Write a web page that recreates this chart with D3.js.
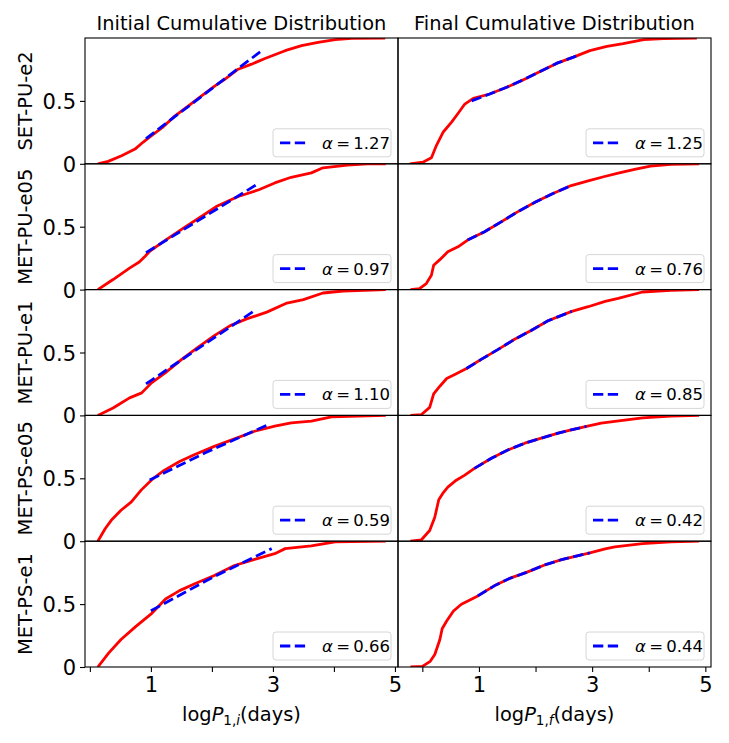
<!DOCTYPE html>
<html>
<head>
<meta charset="utf-8">
<script src="https://cdn.jsdelivr.net/npm/d3@7"></script>
<style>
    body { margin: 0; background: #fff; }
    text { font-family: 'DejaVu Sans', sans-serif; fill: #000; }
</style>
</head>
<body>
<div id="chart"></div>
<script>
var margin = {top: 38, left: 85};
var panel_width = 313;
var panel_height = 125.8;
var color_curve = '#ff0000';
var color_fit = '#0000ff';

var row_labels = ['SET-PU-e2', 'MET-PU-e05', 'MET-PU-e1', 'MET-PS-e05', 'MET-PS-e1'];
var col_titles = ['Initial Cumulative Distribution', 'Final Cumulative Distribution'];
var col_subscripts = ['i', 'f'];
var initial_alpha = ['1.27', '0.97', '1.10', '0.59', '0.66'];
var final_alpha = ['1.25', '0.76', '0.85', '0.42', '0.44'];

var x_ticks = [0, 1, 2, 3, 4, 5];
var x_tick_labels = ['', '1', '', '3', '', '5'];
var y_ticks = [0, 0.5];
var y_tick_labels = ['0', '0.5'];

// cumulative distributions, [logP, fraction]
var set_pu_e2_initial = [[0.13,0],[0.30,0.019],[0.52,0.064],[0.74,0.117],[0.87,0.171],[1.01,0.224],[1.18,0.285],[1.39,0.379],[1.61,0.459],[1.83,0.539],[2.05,0.619],[2.21,0.672],[2.43,0.752],[2.65,0.792],[2.87,0.837],[3.20,0.899],[3.47,0.939],[3.74,0.965],[4.02,0.987],[4.29,0.997],[4.84,1.0]];
var set_pu_e2_final = [[-0.22,0],[0.01,0.013],[0.16,0.048],[0.25,0.147],[0.37,0.253],[0.52,0.333],[0.63,0.40],[0.75,0.475],[0.90,0.52],[1.19,0.555],[1.49,0.608],[1.78,0.667],[2.08,0.733],[2.38,0.80],[2.67,0.848],[2.96,0.90],[3.26,0.933],[3.55,0.955],[3.91,0.987],[4.26,0.995],[4.85,1.0]];
var met_pu_e05_initial = [[0.13,0],[0.38,0.08],[0.65,0.171],[0.81,0.219],[0.91,0.267],[0.98,0.305],[1.24,0.393],[1.57,0.50],[1.84,0.585],[2.07,0.66],[2.43,0.74],[2.77,0.794],[3.03,0.848],[3.30,0.893],[3.63,0.928],[3.82,0.968],[4.22,0.989],[4.55,1.0],[4.85,1.0]];
var met_pu_e05_final = [[-0.21,0],[-0.05,0.008],[0.07,0.048],[0.16,0.114],[0.20,0.194],[0.30,0.234],[0.45,0.30],[0.63,0.34],[0.80,0.394],[1.10,0.46],[1.40,0.54],[1.69,0.62],[1.99,0.694],[2.28,0.758],[2.63,0.827],[2.93,0.864],[3.22,0.899],[3.46,0.926],[3.75,0.955],[4.03,0.981],[4.39,0.995],[4.89,1.0]];
var met_pu_e1_initial = [[0.13,0],[0.38,0.059],[0.65,0.139],[0.85,0.179],[0.93,0.219],[1.01,0.259],[1.24,0.34],[1.51,0.447],[1.77,0.54],[2.04,0.634],[2.30,0.714],[2.57,0.767],[2.90,0.821],[3.23,0.893],[3.50,0.92],[3.82,0.973],[4.15,0.989],[4.85,1.0]];
var met_pu_e1_final = [[-0.21,0],[-0.02,0.005],[0.13,0.064],[0.20,0.171],[0.31,0.232],[0.43,0.293],[0.60,0.331],[0.78,0.373],[1.04,0.445],[1.34,0.525],[1.63,0.605],[1.93,0.677],[2.22,0.752],[2.64,0.827],[2.93,0.864],[3.23,0.907],[3.46,0.931],[3.89,0.981],[4.39,0.995],[4.89,1.0]];
var met_ps_e05_initial = [[0.13,0],[0.25,0.099],[0.35,0.166],[0.51,0.246],[0.68,0.313],[0.84,0.406],[1.01,0.487],[1.21,0.561],[1.47,0.634],[1.71,0.687],[2.04,0.754],[2.37,0.813],[2.70,0.874],[3.03,0.914],[3.30,0.941],[3.63,0.955],[3.96,0.989],[4.85,1.0]];
var met_ps_e05_final = [[-0.21,0],[-0.02,0.01],[0.13,0.085],[0.22,0.19],[0.29,0.33],[0.36,0.38],[0.45,0.43],[0.60,0.485],[0.75,0.525],[0.92,0.579],[1.22,0.659],[1.51,0.725],[1.81,0.779],[2.10,0.819],[2.40,0.859],[2.63,0.885],[2.90,0.912],[3.16,0.939],[3.40,0.952],[3.89,0.981],[4.39,0.995],[4.89,1.0]];
var met_ps_e1_initial = [[0.13,0],[0.31,0.112],[0.51,0.219],[0.75,0.321],[1.0,0.42],[1.24,0.54],[1.47,0.607],[1.71,0.66],[2.04,0.727],[2.37,0.807],[2.70,0.856],[3.03,0.901],[3.20,0.941],[3.63,0.963],[4.02,0.995],[4.85,1.0]];
var met_ps_e1_final = [[-0.21,0],[0.0,0.005],[0.14,0.045],[0.22,0.099],[0.31,0.219],[0.35,0.304],[0.43,0.365],[0.55,0.445],[0.69,0.499],[0.84,0.533],[0.98,0.565],[1.27,0.645],[1.54,0.704],[1.84,0.752],[2.16,0.811],[2.46,0.853],[2.70,0.88],[2.96,0.907],[3.23,0.939],[3.40,0.955],[3.89,0.981],[4.39,0.995],[4.89,1.0]];

// power-law fits, [logP, fraction]
var set_pu_e2_initial_fit = [[0.92,0.20],[2.79,0.89]];
var met_pu_e05_initial_fit = [[0.92,0.294],[2.73,0.834]];
var met_pu_e1_initial_fit = [[0.92,0.251],[2.70,0.834]];
var met_ps_e05_initial_fit = [[0.98,0.487],[1.90,0.705],[2.93,0.928]];
var met_ps_e1_initial_fit = [[1.0,0.447],[2.04,0.72],[2.98,0.941]];
var set_pu_e2_final_fit = [[0.87,0.50],[1.19,0.555],[1.49,0.608],[1.78,0.667],[2.08,0.733],[2.38,0.80],[2.67,0.848],[2.79,0.87]];
var met_pu_e05_final_fit = [[0.80,0.394],[1.10,0.46],[1.40,0.54],[1.69,0.62],[1.99,0.694],[2.28,0.758],[2.63,0.827]];
var met_pu_e1_final_fit = [[0.78,0.373],[1.04,0.445],[1.34,0.525],[1.63,0.605],[1.93,0.677],[2.22,0.752],[2.64,0.827]];
var met_ps_e05_final_fit = [[0.92,0.579],[1.22,0.659],[1.51,0.725],[1.81,0.779],[2.10,0.819],[2.40,0.859],[2.63,0.885],[2.90,0.912]];
var met_ps_e1_final_fit = [[0.98,0.565],[1.27,0.645],[1.54,0.704],[1.84,0.752],[2.16,0.811],[2.46,0.853],[2.70,0.88],[2.96,0.907]];

var initial_curves = [set_pu_e2_initial, met_pu_e05_initial, met_pu_e1_initial, met_ps_e05_initial, met_ps_e1_initial];
var final_curves = [set_pu_e2_final, met_pu_e05_final, met_pu_e1_final, met_ps_e05_final, met_ps_e1_final];
var initial_fits = [set_pu_e2_initial_fit, met_pu_e05_initial_fit, met_pu_e1_initial_fit, met_ps_e05_initial_fit, met_ps_e1_initial_fit];
var final_fits = [set_pu_e2_final_fit, met_pu_e05_final_fit, met_pu_e1_final_fit, met_ps_e05_final_fit, met_ps_e1_final_fit];

var x_domains = [[-0.08, 5.05], [-0.43, 5.1]];

var svg = d3.select('#chart')
    .append('svg')
        .attr('width', 729)
        .attr('height', 743);

function drawPanel(col, row, curve, fit, alpha){
    var left = margin.left + col * panel_width;
    var top = margin.top + row * panel_height;

    var x_scale = d3.scaleLinear()
        .domain(x_domains[col])
        .range([left, left + panel_width]);
    var y_scale = d3.scaleLinear()
        .domain([0, 1])
        .range([top + panel_height, top]);

    var clip_id = 'clip-' + col + '-' + row;
    svg.append('clipPath')
        .attr('id', clip_id)
        .append('rect')
            .attr('x', left)
            .attr('y', top)
            .attr('width', panel_width)
            .attr('height', panel_height);

    var line = d3.line()
        .x(function(d){return x_scale(d[0]);})
        .y(function(d){return y_scale(d[1]);});

    svg.append('path')
        .datum(curve)
        .attr('clip-path', 'url(#' + clip_id + ')')
        .attr('d', line)
        .attr('fill', 'none')
        .attr('stroke', color_curve)
        .attr('stroke-width', 2.8)
        .attr('stroke-linejoin', 'round');

    svg.append('path')
        .datum(fit)
        .attr('d', line)
        .attr('fill', 'none')
        .attr('stroke', color_fit)
        .attr('stroke-width', 2.8)
        .attr('stroke-dasharray', '10.3,4.5');

    // y axis (left column only)
    if(col === 0){
        var y_axis = d3.axisLeft(y_scale)
            .tickValues(y_ticks)
            .tickFormat(function(d, i){return y_tick_labels[i];})
            .tickSize(5)
            .tickPadding(4);
        var gy = svg.append('g')
            .attr('transform', 'translate(' + left + ',0)')
            .call(y_axis);
        gy.select('.domain').remove();
        gy.selectAll('line').attr('stroke', '#000').attr('stroke-width', 1.1);
        gy.selectAll('text')
            .style('font-family', 'DejaVu Sans')
            .style('font-size', '21px')
            .attr('dy', '0.36em');
    }

    // x axis (bottom row only)
    if(row === row_labels.length - 1){
        var x_axis = d3.axisBottom(x_scale)
            .tickValues(x_ticks)
            .tickFormat(function(d, i){return x_tick_labels[i];})
            .tickSize(5)
            .tickPadding(5);
        var gx = svg.append('g')
            .attr('transform', 'translate(0,' + (top + panel_height) + ')')
            .call(x_axis);
        gx.select('.domain').remove();
        gx.selectAll('line').attr('stroke', '#000').attr('stroke-width', 1.1);
        gx.selectAll('text')
            .style('font-family', 'DejaVu Sans')
            .style('font-size', '21px');
    }

    // frame
    svg.append('rect')
        .attr('x', left)
        .attr('y', top)
        .attr('width', panel_width)
        .attr('height', panel_height)
        .attr('fill', 'none')
        .attr('stroke', '#000')
        .attr('stroke-width', 1.1);

    // legend
    var box_w = 118, box_h = 28;
    var bx = left + panel_width - 7 - box_w;
    var by = top + panel_height - 7 - box_h;
    var legend = svg.append('g');
    legend.append('rect')
        .attr('x', bx)
        .attr('y', by)
        .attr('width', box_w)
        .attr('height', box_h)
        .attr('rx', 3)
        .attr('fill', '#fff')
        .attr('fill-opacity', 0.8)
        .attr('stroke', '#d6d6d6')
        .attr('stroke-width', 1);
    legend.append('line')
        .attr('x1', bx + 7)
        .attr('x2', bx + 36)
        .attr('y1', by + box_h / 2)
        .attr('y2', by + box_h / 2)
        .attr('stroke', color_fit)
        .attr('stroke-width', 2.8)
        .attr('stroke-dasharray', '10.3,4.5');
    var lt = legend.append('text')
        .attr('x', bx + 49)
        .attr('y', by + box_h / 2 + 6)
        .style('font-size', '16.5px');
    lt.append('tspan').style('font-style', 'italic').text('\u03b1');
    lt.append('tspan').text('\u2009=\u2009' + alpha);
}

function create(){
    svg.append('rect')
        .attr('width', 729)
        .attr('height', 743)
        .attr('fill', '#fff');

    for(var r = 0; r < row_labels.length; r++){
        drawPanel(0, r, initial_curves[r], initial_fits[r], initial_alpha[r]);
        drawPanel(1, r, final_curves[r], final_fits[r], final_alpha[r]);

        svg.append('text')
            .attr('transform', 'translate(32,' + (margin.top + (r + 0.5) * panel_height) + ')rotate(-90)')
            .attr('text-anchor', 'middle')
            .style('font-size', '19.5px')
            .text(row_labels[r]);
    }

    var bottom = margin.top + row_labels.length * panel_height;
    for(var c = 0; c < 2; c++){
        var cx = margin.left + (c + 0.5) * panel_width;
        svg.append('text')
            .attr('x', cx)
            .attr('y', 30)
            .attr('text-anchor', 'middle')
            .style('font-size', '19.4px')
            .text(col_titles[c]);

        var xl = svg.append('text')
            .attr('x', cx)
            .attr('y', bottom + 54)
            .attr('text-anchor', 'middle')
            .style('font-size', '19.4px');
        xl.append('tspan').text('log');
        xl.append('tspan').style('font-style', 'italic').text('P');
        xl.append('tspan').attr('dy', 4).style('font-size', '13.5px').text('1,');
        xl.append('tspan').style('font-size', '13.5px').style('font-style', 'italic').text(col_subscripts[c]);
        xl.append('tspan').attr('dy', -4).text('(days)');
    }
}

create();
</script>
</body>
</html>
